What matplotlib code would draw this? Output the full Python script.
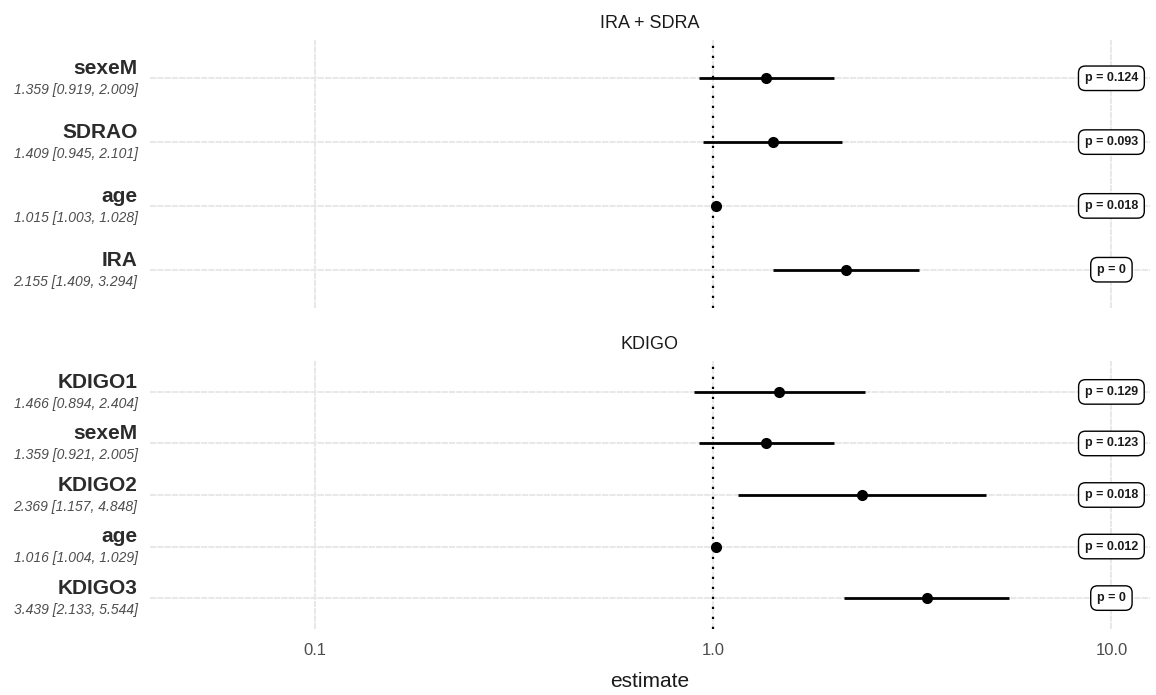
import matplotlib.pyplot as plt
import matplotlib.transforms as mtransforms

plt.rcParams["font.family"] = ["Liberation Sans", "DejaVu Sans"]

# ===================== data =====================
titles = ["IRA + SDRA", "KDIGO"]

terms_1 = ["sexeM", "SDRAO", "age", "IRA"]
est_1 = [1.359, 1.409, 1.015, 2.155]
low_1 = [0.919, 0.945, 1.003, 1.409]
high_1 = [2.009, 2.101, 1.028, 3.294]
pval_1 = ["0.124", "0.093", "0.018", "0"]

terms_2 = ["KDIGO1", "sexeM", "KDIGO2", "age", "KDIGO3"]
est_2 = [1.466, 1.359, 2.369, 1.016, 3.439]
low_2 = [0.894, 0.921, 1.157, 1.004, 2.133]
high_2 = [2.404, 2.005, 4.848, 1.029, 5.544]
pval_2 = ["0.129", "0.123", "0.018", "0.012", "0"]

x_ticks = [0.1, 1.0, 10.0]
x_ticklabels = ["0.1", "1.0", "10.0"]

# ===================== layout =====================
W, H = 1156, 695
fig = plt.figure(figsize=(W / 100, H / 100), dpi=100)
left, right = 150 / W, 1150 / W
ph = 268 / H
ax1 = fig.add_axes([left, 1 - 308 / H, right - left, ph])
ax2 = fig.add_axes([left, 1 - 629 / H, right - left, ph])

GRID = "#e8e8e8"


def draw_panel(ax, title, terms, est, low, high, pvals, show_x):
    n = len(terms)
    ys = list(range(n))
    ax.set_xscale("log")
    ax.set_xlim(0.0385, 12.5)
    ax.set_ylim(n - 1 + 0.6, -0.6)
    for s in ax.spines.values():
        s.set_visible(False)

    # grid
    for y in ys:
        ax.axhline(y, color=GRID, lw=1.5, ls=(0, (3, 0.5)), zorder=0)
    for x in x_ticks:
        ax.axvline(x, color=GRID, lw=1.5, ls=(0, (3, 0.5)), zorder=0)

    ax.axvline(1, color="black", lw=1.6, ls=(0, (1, 3.5)), zorder=1)

    ax.hlines(ys, low, high, color="black", lw=2, zorder=2)
    ax.plot(est, ys, "o", color="black", ms=7, zorder=3)

    for y, p in zip(ys, pvals):
        ax.text(10, y, f"p = {p}", ha="center", va="center", fontsize=9,
                fontweight="bold", color="#1a1a1a", zorder=4,
                bbox=dict(boxstyle="round,pad=0.5,rounding_size=0.55",
                          fc="white", ec="black", lw=1))

    trans = mtransforms.blended_transform_factory(ax.transAxes, ax.transData)
    for y, t, e, lo, hi in zip(ys, terms, est, low, high):
        ax.annotate(t, (0, y), xycoords=trans, xytext=(-9, 3),
                    textcoords="offset points", ha="right", va="baseline",
                    fontsize=15, fontweight="bold", color="#2b2b2b")
        ax.annotate(f"{e:.3f} [{lo:.3f}, {hi:.3f}]", (0, y), xycoords=trans,
                    xytext=(-9, -3.5), textcoords="offset points", ha="right",
                    va="top", fontsize=10, style="italic", color="#4d4d4d")

    ax.annotate(title, (0.5, 1), xycoords="axes fraction", xytext=(0, 8.6),
                textcoords="offset points", ha="center", va="baseline",
                fontsize=13, color="#1a1a1a")

    ax.set_yticks([])
    ax.set_xticks(x_ticks)
    ax.minorticks_off()
    if show_x:
        ax.set_xticklabels(x_ticklabels)
        ax.tick_params(axis="x", length=0, pad=10, labelsize=12, labelcolor="#4d4d4d")
        ax.set_xlabel("estimate", fontsize=15, color="#1a1a1a", labelpad=10)
    else:
        ax.set_xticklabels([])
        ax.tick_params(axis="x", length=0)


draw_panel(ax1, titles[0], terms_1, est_1, low_1, high_1, pval_1, False)
draw_panel(ax2, titles[1], terms_2, est_2, low_2, high_2, pval_2, True)

plt.savefig("out.png", dpi=100)
plt.close()
